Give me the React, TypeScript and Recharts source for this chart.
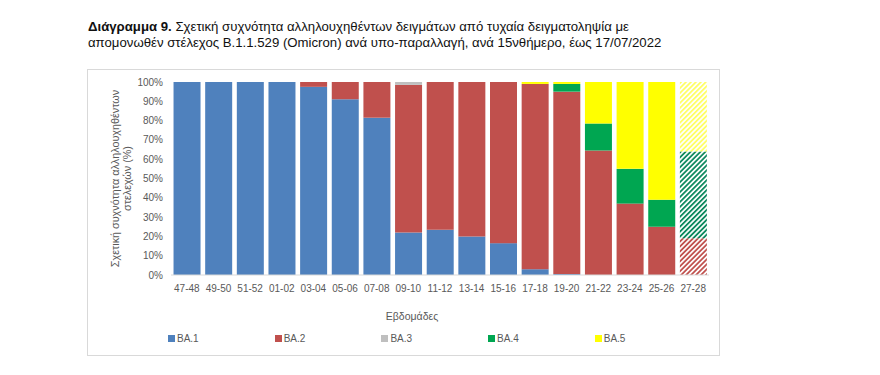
import { BarChart, Bar, XAxis, YAxis, Legend, Cell } from 'recharts'

const weeks = ['47-48', '49-50', '51-52', '01-02', '03-04', '05-06', '07-08', '09-10', '11-12', '13-14', '15-16', '17-18', '19-20', '21-22', '23-24', '25-26', '27-28']
// last fortnight is provisional (hatched in the original)
const provisional = ['27-28']

const ba1 = [100, 100, 100, 100, 97.5, 91, 81.5, 22, 23.5, 20, 16.5, 3, 0.5, 0, 0, 0, 0]
const ba2 = [0, 0, 0, 0, 2.5, 9, 18.5, 76.5, 76.5, 80, 83.5, 96, 94.5, 64.5, 37, 25, 19]
const ba3 = [0, 0, 0, 0, 0, 0, 0, 1.5, 0, 0, 0, 0, 0, 0, 0, 0, 0]
const ba4 = [0, 0, 0, 0, 0, 0, 0, 0, 0, 0, 0, 0, 4, 14, 18, 14, 45]
const ba5 = [0, 0, 0, 0, 0, 0, 0, 0, 0, 0, 0, 1, 1, 21.5, 45, 61, 36]

const yTicks = [0, 10, 20, 30, 40, 50, 60, 70, 80, 90, 100]

const SERIES = [
  { key: 'ba1', name: 'BA.1', color: '#4F81BD' },
  { key: 'ba2', name: 'BA.2', color: '#C0504D' },
  { key: 'ba3', name: 'BA.3', color: '#BFBFBF' },
  { key: 'ba4', name: 'BA.4', color: '#00A651' },
  { key: 'ba5', name: 'BA.5', color: '#FFFF00' },
]

const data = weeks.map((w, i) => ({
  week: w,
  ba1: ba1[i],
  ba2: ba2[i],
  ba3: ba3[i],
  ba4: ba4[i],
  ba5: ba5[i],
}))

const FONT = '"Liberation Sans", Arial, sans-serif'
const GREY = '#595959'

const YAxisTitle = ({ viewBox }: any) => {
  const cy = viewBox.y + viewBox.height / 2
  const x1 = viewBox.x + 17
  const x2 = viewBox.x + 29
  return (
    <g fill={GREY} fontSize={10.8} fontFamily={FONT}>
      <text x={x1} y={cy} textAnchor="middle" dominantBaseline="central" transform={`rotate(-90 ${x1} ${cy})`}>
        Σχετική συχνότητα αλληλουχηθέντων
      </text>
      <text x={x2} y={cy} textAnchor="middle" dominantBaseline="central" transform={`rotate(-90 ${x2} ${cy})`}>
        στελεχών (%)
      </text>
    </g>
  )
}

const LegendContent = () => (
  <div style={{ display: 'flex', fontFamily: FONT, fontSize: 10, color: GREY }}>
    {SERIES.map(s => (
      <div key={s.key} style={{ width: 106.7, display: 'flex', alignItems: 'center' }}>
        <span style={{ width: 7, height: 7, background: s.color, marginRight: 2 }} />
        <span>{s.name}</span>
      </div>
    ))}
  </div>
)

export default function App() {
  return (
    <div style={{ position: 'absolute', left: 0, top: 0, width: 880, height: 375, background: '#fff' }}>
      <div style={{ position: 'absolute', left: 88, top: 19, fontFamily: FONT, fontSize: 13.2, lineHeight: '16px', color: '#111' }}>
        <div><b>Διάγραμμα 9.</b> Σχετική συχνότητα αλληλουχηθέντων δειγμάτων από τυχαία δειγματοληψία με</div>
        <div>απομονωθέν στέλεχος Β.1.1.529 (Omicron) ανά υπο-παραλλαγή, ανά 15νθήμερο, έως 17/07/2022</div>
      </div>
      <div style={{ position: 'absolute', left: 87, top: 69, width: 633, height: 287, boxSizing: 'border-box', border: '1px solid #d9d9d9' }}>
        <BarChart
          width={631}
          height={285}
          data={data}
          margin={{ top: 12, right: 10, bottom: 35, left: 10 }}
          barCategoryGap="8%"
        >
          <defs>
            {SERIES.map(s => (
              <pattern key={s.key} id={`hatch-${s.key}`} width={3.5} height={3.5} patternUnits="userSpaceOnUse" patternTransform="rotate(45)">
                <rect width={3.5} height={3.5} fill="#fff" />
                <rect width={1.8} height={3.5} fill={s.key === 'ba4' ? '#0E8A5F' : s.color} opacity={s.key === 'ba5' ? 0.6 : 1} />
              </pattern>
            ))}
          </defs>
          <XAxis
            dataKey="week"
            height={45}
            interval={0}
            tickMargin={4}
            axisLine={{ stroke: '#d9d9d9' }}
            tickLine={false}
            tick={{ fill: GREY, fontSize: 10, fontFamily: FONT }}
            label={{ value: 'Εβδομάδες', position: 'insideBottom', offset: 0, dx: -28, fill: GREY, fontSize: 10.5, fontFamily: FONT }}
          />
          <YAxis
            width={73}
            domain={[0, 100]}
            ticks={yTicks}
            interval={0}
            axisLine={false}
            tickLine={false}
            tick={{ fill: GREY, fontSize: 10, fontFamily: FONT }}
            tickFormatter={v => `${v}%`}
            label={<YAxisTitle />}
          />
          <Legend
            verticalAlign="middle"
            align="center"
            content={<LegendContent />}
            wrapperStyle={{ left: 80, top: 263, width: 560 }}
          />
          {SERIES.map(s => (
            <Bar key={s.key} dataKey={s.key} name={s.name} stackId="a" fill={s.color} isAnimationActive={false}>
              {weeks.map(w => (
                <Cell key={w} fill={provisional.includes(w) ? `url(#hatch-${s.key})` : s.color} />
              ))}
            </Bar>
          ))}
        </BarChart>
      </div>
    </div>
  )
}
